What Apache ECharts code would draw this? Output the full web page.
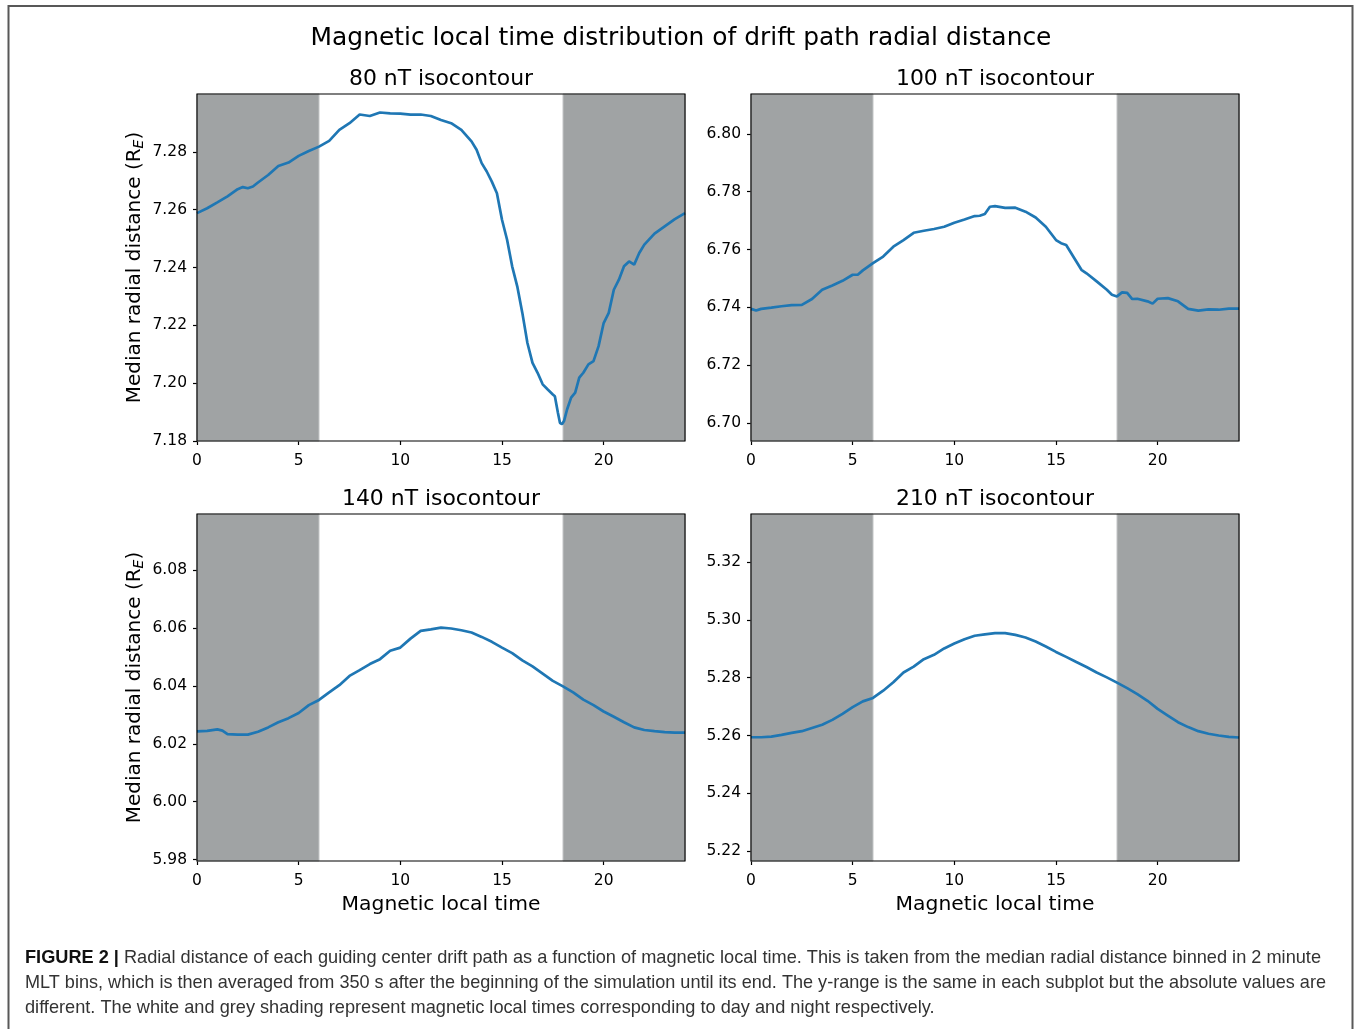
<!DOCTYPE html>
<html>
<head>
<meta charset="utf-8">
<script src="https://cdn.jsdelivr.net/npm/echarts@6/dist/echarts.min.js"></script>
<style>
  html, body { margin: 0; padding: 0; background: #fff; }
  #chart { width: 1354px; height: 1029px; }
</style>
</head>
<body>
<div id="chart"></div>
<script>
// Median drift-path radial distance (R_E) against magnetic local time (h)

// 80 nT isocontour
const mlt80 = [0,0.5,1,1.5,2,2.25,2.5,2.75,3,3.5,4,4.5,5,5.5,6,6.5,7,7.5,8,8.5,9,9.5,10,10.5,11,11.5,12,12.5,13,13.5,
  13.75,14,14.25,14.5,14.75,15,15.25,15.5,15.75,16,16.25,16.5,16.75,17,17.25,17.5,
  17.6,17.75,17.85,17.95,18.05,18.2,18.4,18.6,18.8,19,
  19.25,19.5,19.75,20,20.25,20.5,20.75,21,21.25,21.5,21.75,22,22.5,23,23.5,24];
const r80 = [7.2588,7.2605,7.2625,7.2646,7.2671,7.2678,7.2674,7.2680,7.2694,7.2720,7.2751,7.2763,7.2786,7.2803,7.2818,
  7.2838,7.2876,7.2899,7.2929,7.2924,7.2936,7.2933,7.2932,7.2929,7.2929,7.2924,7.2910,7.2899,7.2876,7.2836,
  7.2807,7.2761,7.2732,7.2697,7.2657,7.2565,7.2496,7.2404,7.2335,7.2243,7.2139,7.2070,7.2036,7.1996,7.1978,7.1961,
  7.1955,7.1898,7.1863,7.1858,7.1869,7.1909,7.1950,7.1967,7.2019,7.2036,
  7.2065,7.2076,7.2128,7.2208,7.2243,7.2323,7.2358,7.2404,7.2421,7.2410,7.2450,7.2479,7.2517,7.2542,7.2567,7.2588];

// 100 nT isocontour
const mlt100 = [0,0.25,0.5,1,1.5,2,2.5,3,3.5,4,4.5,5,5.25,5.5,6,6.5,7,7.5,8,8.5,9,9.5,10,10.5,11,11.25,11.5,11.75,12,12.5,
  13,13.5,14,14.5,15,15.25,15.5,16,16.25,16.5,17,17.5,17.75,18,18.25,18.5,18.75,19,19.5,19.75,
  20,20.5,21,21.5,22,22.5,23,23.5,24];
const r100 = [6.7395,6.7389,6.7395,6.7399,6.7404,6.7408,6.7409,6.7429,6.7461,6.7476,6.7492,6.7513,6.7513,6.7528,6.7553,
  6.7576,6.7610,6.7633,6.7658,6.7665,6.7671,6.7679,6.7693,6.7704,6.7716,6.7717,6.7723,6.7748,6.7750,6.7744,
  6.7745,6.7731,6.7711,6.7679,6.7633,6.7622,6.7616,6.7559,6.7530,6.7518,6.7490,6.7461,6.7444,6.7438,6.7452,
  6.7450,6.7429,6.7430,6.7421,6.7413,6.7430,6.7432,6.7421,6.7395,6.7389,6.7393,6.7392,6.7396,6.7396];

// 140 nT isocontour
const mlt140 = [0,0.5,1,1.25,1.5,2,2.5,3,3.5,4,4.5,5,5.5,6,6.5,7,7.5,8,8.5,9,9.5,10,10.5,11,11.5,12,12.5,13,13.5,14,
  14.5,15,15.5,16,16.5,17,17.5,18,18.5,19,19.5,20,20.5,21,21.5,22,22.5,23,23.5,24];
const r140 = [6.0243,6.0245,6.0250,6.0246,6.0234,6.0232,6.0232,6.0242,6.0257,6.0275,6.0289,6.0307,6.0334,6.0352,6.0378,
  6.0403,6.0435,6.0455,6.0476,6.0493,6.0522,6.0533,6.0564,6.0591,6.0596,6.0602,6.0599,6.0593,6.0585,6.0570,
  6.0553,6.0533,6.0514,6.0489,6.0468,6.0443,6.0418,6.0399,6.0378,6.0353,6.0334,6.0312,6.0294,6.0275,6.0257,
  6.0248,6.0244,6.0241,6.0239,6.0239];

// 210 nT isocontour
const mlt210 = [0,0.5,1,1.5,2,2.5,3,3.5,4,4.5,5,5.5,6,6.5,7,7.5,8,8.5,9,9.5,10,10.5,11,11.5,12,
  12.5,13,13.5,14,14.5,15,15.5,16,16.5,17,17.5,18,18.5,19,19.5,20,20.5,21,21.5,22,22.5,23,23.5,24];
const r210 = [5.2594,5.2594,5.2596,5.2602,5.2609,5.2615,5.2626,5.2637,5.2654,5.2675,5.2698,5.2718,5.2730,5.2755,5.2784,
  5.2818,5.2838,5.2864,5.2879,5.2901,5.2918,5.2933,5.2945,5.2950,5.2954,5.2954,5.2948,5.2939,5.2925,5.2908,
  5.2889,5.2872,5.2854,5.2837,5.2818,5.2801,5.2783,5.2764,5.2743,5.2720,5.2692,5.2669,5.2646,5.2629,5.2615,
  5.2606,5.2600,5.2595,5.2593];

// Tick labels
const xTicks = [0, 5, 10, 15, 20];
const yTicks80 = [7.18, 7.20, 7.22, 7.24, 7.26, 7.28];
const yTicks100 = [6.70, 6.72, 6.74, 6.76, 6.78, 6.80];
const yTicks140 = [5.98, 6.00, 6.02, 6.04, 6.06, 6.08];
const yTicks210 = [5.22, 5.24, 5.26, 5.28, 5.30, 5.32];

// Night-side MLT spans (grey shading)
const nightSpans = [[0, 6], [18, 24]];

const panelTitles = ['80 nT isocontour', '100 nT isocontour', '140 nT isocontour', '210 nT isocontour'];
const mainTitle = 'Magnetic local time distribution of drift path radial distance';
const xName = 'Magnetic local time';
const captionBold = 'FIGURE 2 |';
const captionLines = [
  ' Radial distance of each guiding center drift path as a function of magnetic local time. This is taken from the median radial distance binned in 2 minute',
  'MLT bins, which is then averaged from 350 s after the beginning of the simulation until its end. The y-range is the same in each subplot but the absolute values are',
  'different. The white and grey shading represent magnetic local times corresponding to day and night respectively.'
];

const FONT = 'DejaVu Sans';
const CAP_FONT = 'Liberation Sans';
const LINE_COLOR = '#1f77b4';
const NIGHT_COLOR = '#a0a3a4';

const panels = [
  { mlt: mlt80,  r: r80,  yMin: 7.18,   yMax: 7.30,   yTicks: yTicks80,  left: 197, top: 94,  yLabel: true,  xLabel: false },
  { mlt: mlt100, r: r100, yMin: 6.6938, yMax: 6.8138, yTicks: yTicks100, left: 751, top: 94,  yLabel: false, xLabel: false },
  { mlt: mlt140, r: r140, yMin: 5.9795, yMax: 6.0995, yTicks: yTicks140, left: 197, top: 514, yLabel: true,  xLabel: true },
  { mlt: mlt210, r: r210, yMin: 5.2166, yMax: 5.3366, yTicks: yTicks210, left: 751, top: 514, yLabel: false, xLabel: true }
];
const GW = 488, GH = 347;

const grids = [], xAxes = [], yAxes = [], series = [], graphics = [];

panels.forEach((p, i) => {
  grids.push({
    left: p.left, top: p.top, width: GW, height: GH,
    show: true, borderColor: '#000', borderWidth: 1.2, backgroundColor: 'transparent', z: 6
  });
  xAxes.push({
    gridIndex: i, type: 'value', min: 0, max: 24,
    axisLine: { show: false },
    splitLine: { show: false },
    axisTick: { show: true, customValues: xTicks, length: 4, lineStyle: { color: '#000', width: 1.2 } },
    axisLabel: { customValues: xTicks, margin: 12, color: '#000', fontSize: 15.5, fontFamily: FONT },
    name: p.xLabel ? xName : '',
    nameLocation: 'middle', nameGap: 34,
    nameTextStyle: { fontSize: 20.3, fontFamily: FONT, color: '#000' }
  });
  yAxes.push({
    gridIndex: i, type: 'value', min: p.yMin, max: p.yMax,
    axisLine: { show: false },
    splitLine: { show: false },
    axisTick: { show: true, customValues: p.yTicks, length: 4, lineStyle: { color: '#000', width: 1.2 } },
    axisLabel: { customValues: p.yTicks, margin: 10, color: '#000', fontSize: 15.5, fontFamily: FONT,
      formatter: v => v.toFixed(2) },
    name: p.yLabel ? '{n|Median radial distance (R}{s|E}{n|)}' : '',
    nameLocation: 'middle', nameGap: 50, nameRotate: 90,
    nameTextStyle: {
      rich: {
        n: { fontSize: 20, fontFamily: FONT, color: '#000', lineHeight: 24 },
        s: { fontSize: 14, fontFamily: FONT, fontStyle: 'italic', color: '#000', lineHeight: 24, padding: [9, 0, 0, 0] }
      }
    }
  });
  // night shading
  series.push({
    type: 'line', xAxisIndex: i, yAxisIndex: i, data: [], z: 1, silent: true,
    markArea: {
      silent: true,
      itemStyle: { color: NIGHT_COLOR, borderColor: '#c3c5c6', borderWidth: 1 },
      data: nightSpans.map(s => [{ xAxis: s[0] }, { xAxis: s[1] }])
    }
  });
  series.push({
    type: 'line', xAxisIndex: i, yAxisIndex: i, z: 3,
    data: p.mlt.map((h, k) => [h, p.r[k]]),
    showSymbol: false, smooth: false,
    lineStyle: { color: LINE_COLOR, width: 2.7 },
    animation: false
  });
  graphics.push({
    type: 'text', x: p.left + GW / 2, y: p.top - 15,
    style: { text: panelTitles[i], fontSize: 21.9, fontFamily: FONT, fill: '#000',
      align: 'center', verticalAlign: 'middle', textAlign: 'center', textVerticalAlign: 'middle' }
  });
});

// figure frame
graphics.push({
  type: 'polyline',
  shape: { points: [[8.5, 1029], [8.5, 6], [1352.5, 6], [1352.5, 1029]] },
  style: { stroke: '#585858', lineWidth: 2, fill: null }
});

graphics.push({
  type: 'text', x: 681, y: 39,
  style: { text: mainTitle, fontSize: 24.9, fontFamily: FONT, fill: '#000',
    align: 'center', verticalAlign: 'middle', textAlign: 'center', textVerticalAlign: 'middle' }
});

// caption, condensed to the column width
const CAP_SIZE = 18.5;
const ctx = document.createElement('canvas').getContext('2d');
function tw(str, bold) {
  ctx.font = (bold ? 'bold ' : '') + CAP_SIZE + 'px "' + CAP_FONT + '"';
  return ctx.measureText(str).width;
}
const capY = [958, 983, 1008];
const w1 = tw(captionBold, true) + tw(captionLines[0], false);
const w2 = tw(captionLines[1], false);
const s1 = 1296 / w1;
const s2 = 1301 / w2;
const capScale = [s1, s2, s1];
captionLines.forEach((line, k) => {
  graphics.push({
    type: 'text', x: 25, y: capY[k], scaleX: capScale[k], originX: 0, originY: 0,
    style: {
      text: k === 0 ? '{b|' + captionBold + '}' + line : line,
      fontSize: CAP_SIZE, fontFamily: CAP_FONT, fill: '#333',
      align: 'left', verticalAlign: 'middle', textAlign: 'left', textVerticalAlign: 'middle',
      rich: { b: { fontWeight: 'bold', fill: '#111', fontSize: CAP_SIZE, fontFamily: CAP_FONT } }
    }
  });
});

const chart = echarts.init(document.getElementById('chart'), null, { renderer: 'canvas' });
chart.setOption({
  backgroundColor: '#fff',
  animation: false,
  grid: grids,
  xAxis: xAxes,
  yAxis: yAxes,
  series: series,
  graphic: graphics
});
</script>
</body>
</html>
